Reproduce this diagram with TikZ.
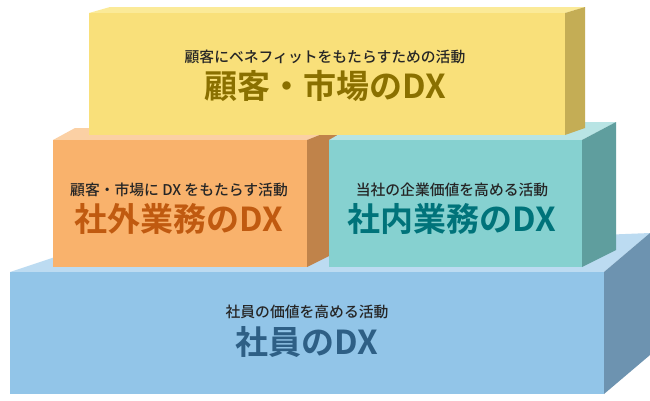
\documentclass[tikz,border=0pt]{standalone}
\usepackage{fontspec}
\newfontfamily\cjk{Noto Sans CJK JP Medium}
\newfontfamily\cjkb{Noto Sans CJK JP Bold}
\begin{document}
\begin{tikzpicture}[x=1pt,y=-1pt,
  small/.style={font=\cjk\fontsize{14.8}{15}\selectfont, text=black!85},
  title/.style={font=\cjkb\fontsize{33}{34}\selectfont}]
\definecolor{yF}{HTML}{F9E07A}\definecolor{yS}{HTML}{C4AD55}\definecolor{yT}{HTML}{FBEA98}
\definecolor{oF}{HTML}{F9B26C}\definecolor{oS}{HTML}{C0834A}\definecolor{oT}{HTML}{FBD0A4}
\definecolor{tF}{HTML}{86D1D0}\definecolor{tS}{HTML}{5F9E9E}\definecolor{tT}{HTML}{B8E4E4}
\definecolor{bF}{HTML}{92C5E8}\definecolor{bS}{HTML}{6D93B0}\definecolor{bT}{HTML}{BCDBF1}
\definecolor{yX}{HTML}{8A7000}\definecolor{oX}{HTML}{C05A10}\definecolor{tX}{HTML}{00737A}\definecolor{bX}{HTML}{2E5F85}
\useasboundingbox[fill=white] (0,0) rectangle (650,400);
% blue base
\fill[bT] (10,272) -- (55,257) -- (650,233) -- (604,272) -- cycle;
\fill[bS] (604,272) -- (650,233) -- (650,355) -- (604,394) -- cycle;
\fill[bF] (10,272) rectangle (604,394);
% orange
\fill[oT] (53,140) -- (75,128) -- (337,128) -- (307,140) -- cycle;
\fill[oS] (307,140) -- (337,128) -- (337,252) -- (307,267) -- cycle;
\fill[oF] (53,140) rectangle (307,267);
% teal
\fill[tT] (329,140) -- (360,122) -- (616,122) -- (582,140) -- cycle;
\fill[tS] (582,140) -- (616,122) -- (616,250) -- (582,267) -- cycle;
\fill[tF] (329,140) rectangle (582,267);
% yellow
\fill[yT] (89,13) -- (110,7) -- (585,7) -- (565,13) -- cycle;
\fill[yS] (565,13) -- (585,7) -- (585,128) -- (565,135) -- cycle;
\fill[yF] (89,13) rectangle (565,135);
% texts
\node[small] (ys) at (325,57) {顧客にベネフィットをもたらすための活動};
\node[title,text=yX] (yt) at (325,86) {顧客・市場のDX};
\node[small] (os) at (179,190) {顧客・市場に DX をもたらす活動};
\node[title,text=oX] (ot) at (179,219) {社外業務のDX};
\node[small] (ts) at (452,190) {当社の企業価値を高める活動};
\node[title,text=tX] (tt) at (452,219) {社内業務のDX};
\node[small] (bs) at (307,312) {社員の価値を高める活動};
\node[title,text=bX] (bt) at (307,342) {社員のDX};
\end{tikzpicture}
\end{document}
